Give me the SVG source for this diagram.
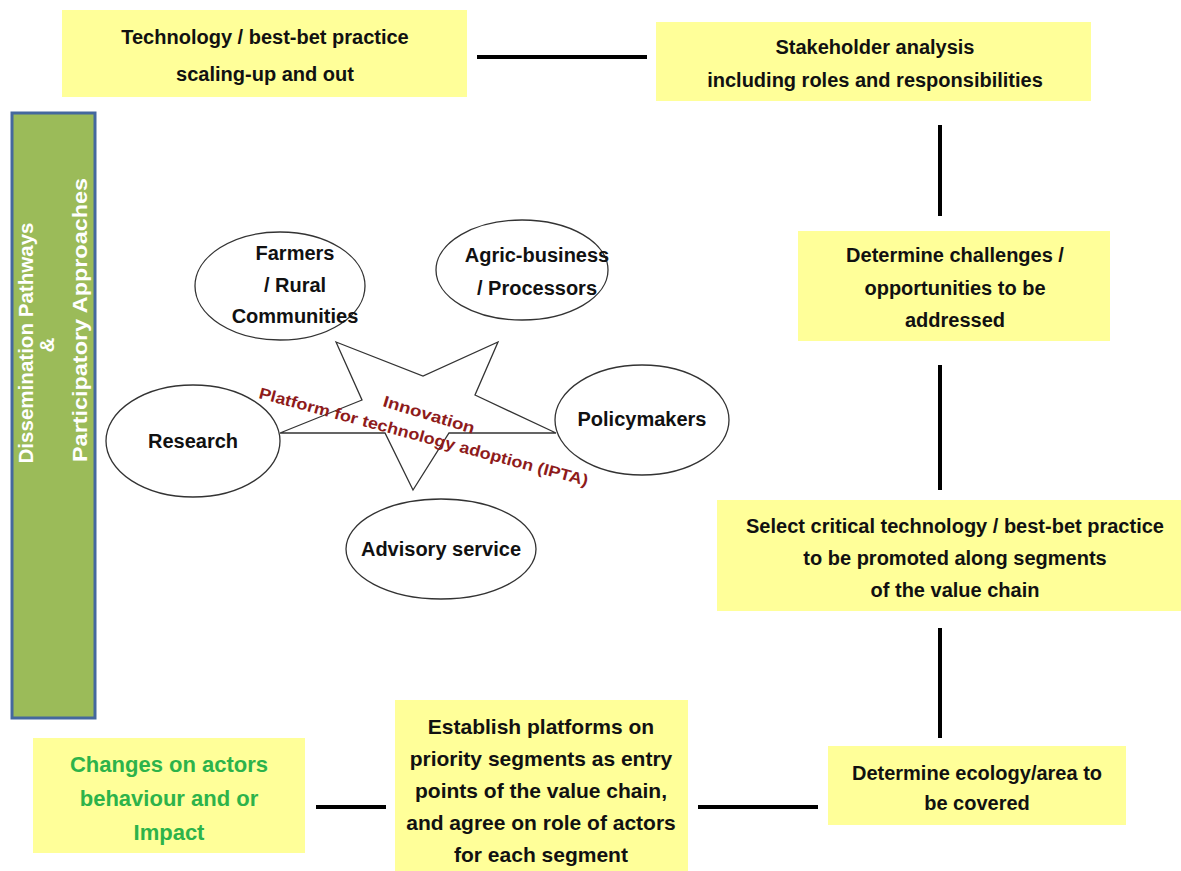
<svg xmlns="http://www.w3.org/2000/svg" width="1181" height="871" viewBox="0 0 1181 871">
<style>
.box{fill:#ffff99}
.t{font-family:"Liberation Sans",Arial,sans-serif;font-weight:bold;font-size:20px;fill:#111;text-anchor:middle}
.n{font-size:21px}
.g{fill:#2db34a;font-size:22px}
.e{fill:#fff;stroke:#333;stroke-width:1.3}
.red{font-family:"Liberation Sans",Arial,sans-serif;font-weight:bold;font-size:16px;fill:#8e1b1b}
.side{font-family:"Liberation Sans",Arial,sans-serif;font-weight:bold;font-size:20.5px;fill:#fff;text-anchor:middle}
.c{stroke:#000;stroke-width:4;fill:none}
</style>
<rect width="1181" height="871" fill="#fff"/>
<g id="connectors">
<line class="c" x1="477" y1="57" x2="647" y2="57"/>
<line class="c" x1="940" y1="125" x2="940" y2="216"/>
<line class="c" x1="940" y1="365" x2="940" y2="490"/>
<line class="c" x1="940" y1="628" x2="940" y2="738"/>
<line class="c" x1="698" y1="807" x2="818" y2="807"/>
<line class="c" x1="316" y1="807" x2="386" y2="807"/>
</g>
<g id="sidebar">
<rect x="12" y="113" width="83" height="605" fill="#9bbb59" stroke="#44689e" stroke-width="3"/>
<text class="side" transform="translate(33,343) rotate(-90)" textLength="241" lengthAdjust="spacingAndGlyphs">Dissemination Pathways</text>
<text class="side" transform="translate(54,345) rotate(-90)">&amp;</text>
<text class="side" transform="translate(87,320) rotate(-90)" textLength="284" lengthAdjust="spacingAndGlyphs">Participatory  Approaches</text>
</g>
<g id="n1"><rect class="box" x="62" y="10" width="405" height="87"/>
<text class="t" x="265" y="44">Technology / best-bet practice</text>
<text class="t" x="265" y="81">scaling-up and out</text></g>
<g id="n2"><rect class="box" x="656" y="22" width="435" height="79"/>
<text class="t" x="875" y="54">Stakeholder analysis</text>
<text class="t" x="875" y="87">including roles and responsibilities</text></g>
<g id="n3"><rect class="box" x="798" y="231" width="312" height="110"/>
<text class="t" x="955" y="262">Determine challenges /</text>
<text class="t" x="955" y="295">opportunities to be</text>
<text class="t" x="955" y="327">addressed</text></g>
<g id="n4"><rect class="box" x="717" y="500" width="464" height="111"/>
<text class="t" x="955" y="533">Select critical technology / best-bet practice</text>
<text class="t" x="955" y="565">to be promoted along segments</text>
<text class="t" x="955" y="597">of the value chain</text></g>
<g id="n5"><rect class="box" x="828" y="746" width="298" height="79"/>
<text class="t" x="977" y="780">Determine ecology/area to</text>
<text class="t" x="977" y="810">be covered</text></g>
<g id="n6"><rect class="box" x="395" y="700" width="293" height="171"/>
<text class="t n" x="541" y="734">Establish platforms on</text>
<text class="t n" x="541" y="766">priority segments as entry</text>
<text class="t n" x="541" y="798">points of the value chain,</text>
<text class="t n" x="541" y="830">and agree on role of actors</text>
<text class="t n" x="541" y="862">for each segment</text></g>
<g id="n7"><rect class="box" x="33" y="738" width="272" height="115"/>
<text class="t g" x="169" y="772">Changes on actors</text>
<text class="t g" x="169" y="806">behaviour and or</text>
<text class="t g" x="169" y="840">Impact</text></g>
<g id="platform">
<g id="star"><polygon class="e" points="336,342 423,376 498,342 475,395 556,433 449,433 413,490 385,433 280,433 362,400"/></g>
<g id="farmers"><ellipse class="e" cx="280" cy="286" rx="85" ry="54"/>
<text class="t" x="295" y="260">Farmers</text>
<text class="t" x="295" y="292">/ Rural</text>
<text class="t" x="295" y="323">Communities</text></g>
<g id="agric"><ellipse class="e" cx="522" cy="270" rx="86" ry="50"/>
<text class="t" x="537" y="262">Agric-business</text>
<text class="t" x="537" y="295">/ Processors</text></g>
<g id="research"><ellipse class="e" cx="193" cy="441" rx="87" ry="56"/>
<text class="t" x="193" y="448">Research</text></g>
<g id="policy"><ellipse class="e" cx="642" cy="420" rx="87" ry="55"/>
<text class="t" x="642" y="426">Policymakers</text></g>
<g id="advisory"><ellipse class="e" cx="441" cy="549" rx="95" ry="50"/>
<text class="t" x="441" y="556">Advisory service</text></g>
<text class="red" transform="translate(382,406) rotate(17)" textLength="95" lengthAdjust="spacingAndGlyphs">Innovation</text>
<text class="red" transform="translate(258,398) rotate(15)" textLength="340" lengthAdjust="spacingAndGlyphs">Platform  for technology adoption (IPTA)</text>
</g>
</svg>
